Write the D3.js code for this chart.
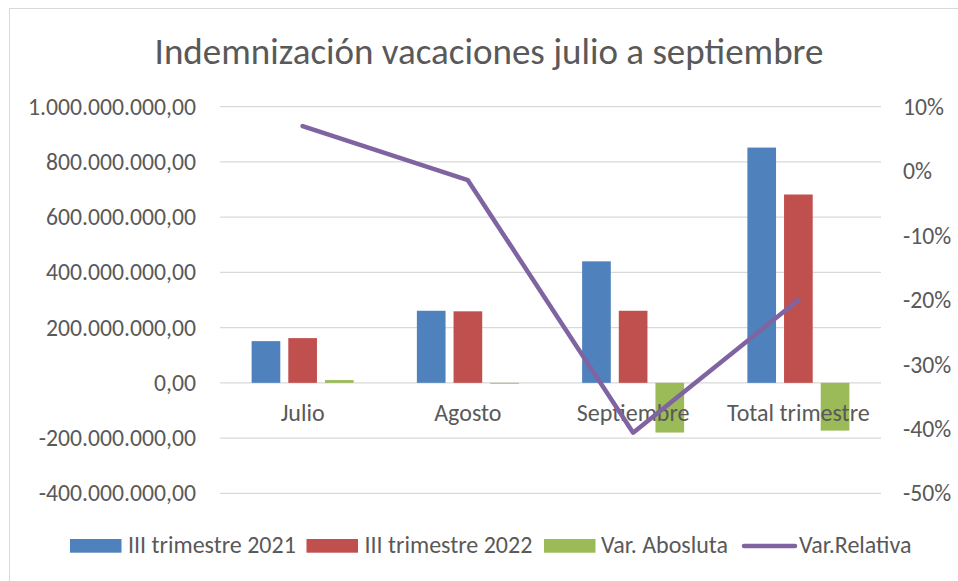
<!DOCTYPE html>
<html>
<head>
<meta charset="utf-8">
<script src="https://cdn.jsdelivr.net/npm/d3@7"></script>
<style>
  body { margin: 0; background: #fff; }
  svg text { font-family: Carlito, Lato, "Open Sans", sans-serif; fill: #595959; }
</style>
</head>
<body>
<div id="chart"></div>
<script>
// Data
const categories = ["Julio", "Agosto", "Septiembre", "Total trimestre"];
const trim2021 = [151e6, 261e6, 440e6, 852e6];
const trim2022 = [162e6, 259e6, 261e6, 682e6];
const varAbsoluta = [10e6, -3e6, -180e6, -173e6];
const varRelativa = [0.07, -0.014, -0.406, -0.20];

const seriesNames = ["III trimestre 2021", "III trimestre 2022", "Var. Abosluta"];
const seriesValues = [trim2021, trim2022, varAbsoluta];
const lineName = "Var.Relativa";

const leftTicks = [-400e6, -200e6, 0, 200e6, 400e6, 600e6, 800e6, 1000e6];
const rightTicks = [-0.5, -0.4, -0.3, -0.2, -0.1, 0, 0.1];

const W = 958, H = 581;
const plot = { left: 220, right: 881, top: 106.7, bottom: 493.3 };

const colors = ["#4F81BD", "#C0504D", "#9BBB59"];
const lineColor = "#8064A2";

const svg = d3.select("#chart").append("svg")
    .attr("width", W)
    .attr("height", H);

// chart border (right/bottom edges fall outside the picture)
svg.append("rect")
    .attr("x", 9.5).attr("y", 8.5)
    .attr("width", 960).attr("height", 590)
    .attr("fill", "#fff")
    .attr("stroke", "#d9d9d9");

const locale = d3.formatLocale({ decimal: ",", thousands: ".", grouping: [3], currency: ["", ""], minus: "-" });
const fmtLeft = locale.format(",.2f");
const fmtRight = locale.format(".0%");

const x0 = d3.scaleBand()
    .domain(categories)
    .range([plot.left, plot.right]);

const y = d3.scaleLinear()
    .domain([-400e6, 1000e6])
    .range([plot.bottom, plot.top]);

const y2 = d3.scaleLinear()
    .domain([-0.5, 0.1])
    .range([plot.bottom, plot.top]);

// Gridlines
svg.append("g")
    .selectAll("line")
    .data(leftTicks)
    .join("line")
    .attr("x1", plot.left)
    .attr("x2", plot.right)
    .attr("y1", d => y(d))
    .attr("y2", d => y(d))
    .attr("stroke", "#d9d9d9")
    .attr("stroke-width", 1.3);

// Left axis
const leftAxis = svg.append("g")
    .attr("transform", `translate(${plot.left},0)`)
    .call(d3.axisLeft(y).tickValues(leftTicks).tickFormat(fmtLeft).tickSize(0).tickPadding(24));
leftAxis.select(".domain").remove();
leftAxis.selectAll("text")
    .style("font-size", "23.7px")
    .style("fill", "#595959");

// Right axis
const rightAxis = svg.append("g")
    .attr("transform", `translate(${plot.right},0)`)
    .call(d3.axisRight(y2).tickValues(rightTicks).tickFormat(fmtRight).tickSize(0).tickPadding(22));
rightAxis.select(".domain").remove();
rightAxis.selectAll("text")
    .style("font-size", "23.7px")
    .style("fill", "#595959");

// Bars
const groupHalf = 51;
const x1 = d3.scaleBand()
    .domain(seriesNames)
    .range([-groupHalf, groupHalf])
    .paddingInner(0.218);

const barData = [];
categories.forEach((c, i) => {
    seriesNames.forEach((s, j) => {
        barData.push({ cat: c, series: s, value: seriesValues[j][i], color: colors[j] });
    });
});

svg.append("g")
    .selectAll("rect")
    .data(barData)
    .join("rect")
    .attr("x", d => x0(d.cat) + x0.bandwidth() / 2 + x1(d.series))
    .attr("y", d => y(Math.max(0, d.value)))
    .attr("width", x1.bandwidth())
    .attr("height", d => Math.abs(y(d.value) - y(0)))
    .attr("fill", d => d.color);

// Category labels (next to zero line)
svg.append("g")
    .selectAll("text")
    .data(categories)
    .join("text")
    .attr("x", d => x0(d) + x0.bandwidth() / 2)
    .attr("y", y(0) + 38.5)
    .attr("text-anchor", "middle")
    .style("font-size", "24px")
    .text(d => d);

// Relative variation line
const line = d3.line()
    .x((d, i) => x0(categories[i]) + x0.bandwidth() / 2)
    .y(d => y2(d));

svg.append("path")
    .datum(varRelativa)
    .attr("d", line)
    .attr("fill", "none")
    .attr("stroke", lineColor)
    .attr("stroke-width", 4.5)
    .attr("stroke-linecap", "round")
    .attr("stroke-linejoin", "round");

// Title
svg.append("text")
    .attr("x", 489)
    .attr("y", 63.5)
    .attr("text-anchor", "middle")
    .style("font-size", "37px")
    .text("Indemnización vacaciones julio a septiembre");

// Legend
const legendItems = [
    { name: seriesNames[0], color: colors[0], type: "rect", x: 70, tx: 128 },
    { name: seriesNames[1], color: colors[1], type: "rect", x: 306.5, tx: 364.5 },
    { name: seriesNames[2], color: colors[2], type: "rect", x: 544, tx: 601 },
    { name: lineName, color: lineColor, type: "line", x: 744, tx: 799 }
];
const legendY = 546;
const legend = svg.append("g");
legendItems.forEach(item => {
    if (item.type === "rect") {
        legend.append("rect")
            .attr("x", item.x).attr("y", legendY - 7)
            .attr("width", 51.5).attr("height", 13.7)
            .attr("fill", item.color);
    } else {
        legend.append("line")
            .attr("x1", item.x).attr("x2", item.x + 51)
            .attr("y1", legendY).attr("y2", legendY)
            .attr("stroke", item.color)
            .attr("stroke-width", 4.5)
            .attr("stroke-linecap", "round");
    }
    legend.append("text")
        .attr("x", item.tx)
        .attr("y", 552.7)
        .style("font-size", "24px")
        .text(item.name);
});
</script>
</body>
</html>
